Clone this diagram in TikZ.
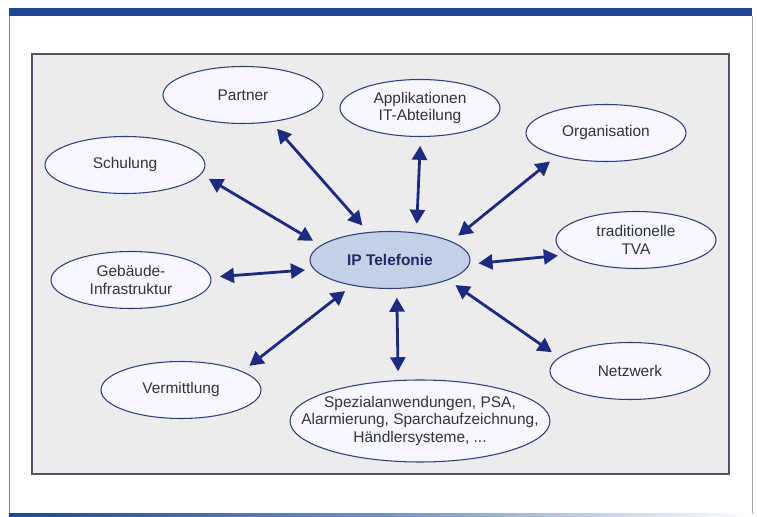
\documentclass[tikz,border=0pt]{standalone}
\usepackage{fontspec}
\setmainfont{Liberation Sans}
\usepackage{tikz}
\usetikzlibrary{shapes.geometric, arrows.meta, backgrounds}
\definecolor{barblue}{RGB}{28,72,150}
\definecolor{rimblue}{RGB}{45,62,130}
\definecolor{arrblue}{RGB}{28,42,128}
\definecolor{navy}{RGB}{30,44,105}
\definecolor{txtgray}{RGB}{50,52,60}
\definecolor{panelgray}{RGB}{236,236,237}
\tikzstyle{topic}  = [ellipse, minimum width=3.2cm, minimum height=1.14cm,
                      inner sep=0pt, text centered, align=center, draw=rimblue,
                      fill=blue!3, text=txtgray, line width=0.6pt,
                      font=\fontsize{8.8}{10.2}\selectfont]
\tikzstyle{hub}    = [topic, fill={rgb,255:red,196;green,208;blue,230},
                      text=navy, font=\fontsize{8.8}{10.2}\selectfont\bfseries]
\tikzstyle{wide}   = [topic, minimum width=5.2cm, minimum height=1.64cm,
                      inner xsep=-17pt]
\tikzstyle{link}   = [line width=1.6pt, draw=arrblue, arrblue,
                      {Triangle[length=8pt,width=8.5pt]}-{Triangle[length=8pt,width=8.5pt]},
                      shorten <=5pt, shorten >=5pt]

\begin{document}
\begin{tikzpicture}[node distance=3.0cm]
\useasboundingbox (0,0) rectangle (15.14,-10.34);
\node (ipt) [hub] at (7.80,-5.20) {IP Telefonie};
\node (par) [topic, above of=ipt, xshift=-2.94cm, yshift= 0.30cm] {Partner};
\node (app) [topic, above of=ipt, xshift= 0.60cm, yshift= 0.04cm] {Applikationen\\IT-Abteilung};
\node (sch) [topic, left of=ipt,  xshift=-2.30cm, yshift= 1.90cm] {Schulung};
\node (geb) [topic, left of=ipt,  xshift=-2.18cm, yshift=-0.40cm] {Gebäude-\\Infrastruktur};
\node (ver) [topic, left of=ipt,  xshift=-1.18cm, yshift=-2.60cm] {Vermittlung};
\node (spz) [wide,  below of=ipt, xshift= 0.60cm, yshift=-0.22cm]
      {Spezialanwendungen, PSA,\\Alarmierung, Sparchaufzeichnung,\\Händlersysteme, ...};
\node (org) [topic, right of=ipt, xshift= 1.32cm, yshift= 2.54cm] {Organisation};
\node (tva) [topic, right of=ipt, xshift= 1.92cm, yshift= 0.40cm] {traditionelle\\TVA};
\node (net) [topic, right of=ipt, xshift= 1.80cm, yshift=-2.22cm] {Netzwerk};
\begin{scope}[on background layer]
  \fill [barblue] (0.18,-0.16) rectangle (15.04,-0.32);
  \draw [gray, thin] (0.18,-0.32) -- (0.18,-10.28);
  \draw [gray!70, thin] (15.04,-0.32) -- (15.04,-10.28);
  \shade [left color=barblue, right color=white, middle color=barblue!60]
        (0.18,-10.28) rectangle (15.04,-10.34);
  \draw [fill=panelgray, draw={rgb,255:red,80;green,84;blue,105}, line width=0.7pt]
        (0.64,-1.08) rectangle (14.58,-9.48);
\end{scope}

\draw [link] (par.-44)  -- (ipt.128);
\draw [link] (sch.-7)   -- (ipt.168);
\draw [link] (app.-89)  -- (ipt.46);
\draw [link] (org.205)  -- (ipt.17);
\draw [link] (tva.192)  -- (ipt.-3);
\draw [link] (geb.2)    -- (ipt.187);
\draw [link] (ver.17)   -- (ipt.214);
\draw [link] (spz.118)  -- (ipt.-77);
\draw [link] (net.169)  -- (ipt.-19);
\end{tikzpicture}
\end{document}
